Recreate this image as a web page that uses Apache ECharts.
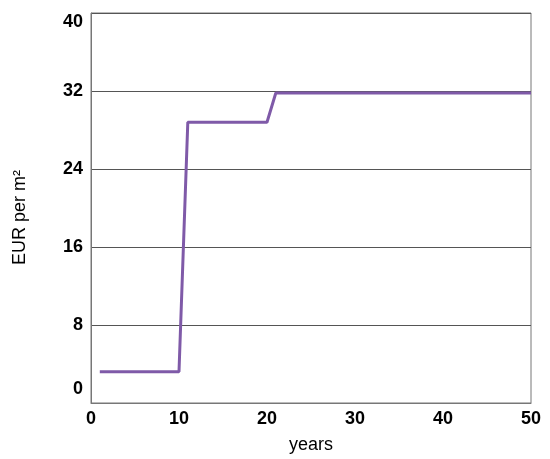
<!DOCTYPE html>
<html><head><meta charset="utf-8">
<script src="https://cdn.jsdelivr.net/npm/echarts@6/dist/echarts.min.js"></script>
<style>html,body{margin:0;padding:0;background:#fff}#c{width:550px;height:459px}</style>
</head><body><div id="c"></div>
<script>
const years = [1, 10, 11, 20, 21, 50];
const eurPerM2 = [3.2, 3.2, 28.8, 28.8, 31.8, 31.8];
const yTicks = [0, 8, 16, 24, 32, 40];
const xTicks = [0, 10, 20, 30, 40, 50];

const chart = echarts.init(document.getElementById('c'), null, {renderer: 'canvas'});
chart.setOption({
  animation: false,
  grid: {left: 91, right: 19, top: 13, bottom: 56, show: true, borderColor: '#777', borderWidth: 1,
    containLabel: false, outerBoundsMode: 'none'},
  graphic: [{
    type: 'text', left: 11, top: 170, rotation: Math.PI / 2,
    style: {text: 'EUR per m²', fontFamily: 'Liberation Sans', fontSize: 18, fill: '#000'}
  }],
  xAxis: {
    type: 'value', min: xTicks[0], max: xTicks[xTicks.length - 1], interval: 10,
    name: 'years', nameLocation: 'middle', nameGap: 33,
    nameTextStyle: {fontFamily: 'Liberation Sans', fontSize: 18, color: '#000'},
    axisLine: {show: true, lineStyle: {color: '#777'}},
    axisTick: {show: false},
    splitLine: {show: false},
    axisLabel: {fontFamily: 'Liberation Sans', fontWeight: 'bold', fontSize: 18, color: '#000', margin: 7}
  },
  yAxis: {
    type: 'value', min: yTicks[0], max: yTicks[yTicks.length - 1], interval: 8,
    axisLine: {show: true, lineStyle: {color: '#777'}},
    axisTick: {show: false},
    splitLine: {show: true, lineStyle: {color: '#555', width: 1}},
    axisLabel: {fontFamily: 'Liberation Sans', fontWeight: 'bold', fontSize: 18, color: '#000', margin: 8,
      verticalAlignMaxLabel: 'top',
      formatter: v => v === yTicks[0] ? '{lo|' + v + '}' : String(v),
      rich: {lo: {fontFamily: 'Liberation Sans', fontWeight: 'bold', fontSize: 18, color: '#000', padding: [0, 0, 28, 0]}}}
  },
  series: [{
    type: 'line',
    data: years.map((y, i) => [y, eurPerM2[i]]),
    showSymbol: false,
    lineStyle: {color: '#7f5aa8', width: 3},
    itemStyle: {color: '#7f5aa8'}
  }]
});
</script></body></html>
